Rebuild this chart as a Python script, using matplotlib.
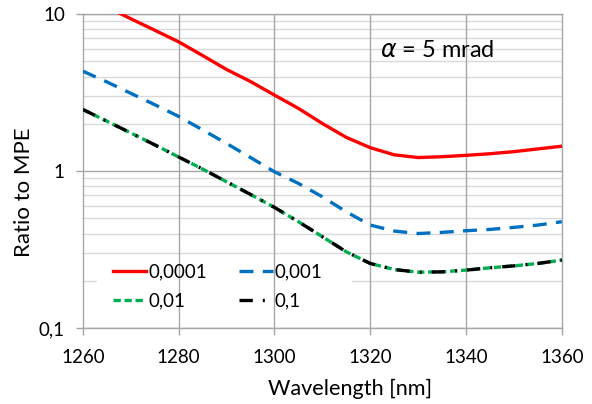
import numpy as np
import matplotlib
matplotlib.use("Agg")
import matplotlib.pyplot as plt
from matplotlib.ticker import FixedLocator, FuncFormatter, NullFormatter
from matplotlib.patches import Rectangle

plt.rcParams['font.family'] = ['Lato', 'DejaVu Sans']
plt.rcParams['mathtext.fontset'] = 'dejavusans'

# wavelength [nm]
wavelength = [1260, 1265, 1270, 1275, 1280, 1285, 1290, 1295, 1300, 1305, 1310,
              1315, 1320, 1325, 1330, 1335, 1340, 1345, 1350, 1355, 1360]

# ratio to MPE, one list per series
r_0001 = [12.4, 11.1, 9.35, 7.9, 6.66, 5.45, 4.44, 3.72, 3.05, 2.51, 2.01,
          1.64, 1.41, 1.27, 1.22, 1.235, 1.26, 1.29, 1.33, 1.385, 1.44]
r_001 = [4.33, 3.7, 3.13, 2.65, 2.23, 1.83, 1.50, 1.22, 0.99, 0.835, 0.686,
         0.55, 0.453, 0.415, 0.40, 0.407, 0.417, 0.425, 0.438, 0.453, 0.476]
r_01 = [2.47, 2.08, 1.75, 1.47, 1.23, 1.03, 0.855, 0.71, 0.587, 0.476, 0.382,
        0.306, 0.258, 0.236, 0.227, 0.228, 0.234, 0.242, 0.249, 0.258, 0.271]
r_1 = [2.47, 2.08, 1.75, 1.47, 1.23, 1.03, 0.855, 0.71, 0.587, 0.476, 0.382,
       0.306, 0.258, 0.236, 0.227, 0.228, 0.234, 0.242, 0.249, 0.258, 0.271]

x_ticks = [1260, 1280, 1300, 1320, 1340, 1360]
y_labels = {0.1: '0,1', 1: '1', 10: '10'}

fig = plt.figure(figsize=(5.92, 4.04), dpi=100)
ax = fig.add_axes([0.140, 0.188, 0.809, 0.777])

lw = 2.4
l1, = ax.plot(wavelength, r_0001, color='#FF0000', lw=lw, label='0,0001', zorder=5)
l2, = ax.plot(wavelength, r_001, color='#0070C0', lw=lw, dashes=(4.2, 2.8), label='0,001', zorder=5)
l3, = ax.plot(wavelength, r_01, color='#00B050', lw=lw, dashes=(2.2, 1.1), label='0,01', zorder=5)
l4, = ax.plot(wavelength, r_1, color='black', lw=lw, dashes=(4, 3, 0.6, 3), label='0,1', zorder=6)

ax.set_yscale('log')
ax.set_xlim(1260, 1360)
ax.set_ylim(0.1, 10)
ax.set_xticks(x_ticks)
ax.yaxis.set_major_locator(FixedLocator(list(y_labels.keys())))
ax.yaxis.set_major_formatter(FuncFormatter(lambda v, p: y_labels.get(round(v, 3), '')))
ax.yaxis.set_minor_locator(FixedLocator([m * d for d in (0.1, 1) for m in range(2, 10)]))
ax.yaxis.set_minor_formatter(NullFormatter())

# horizontal grid lines
ax.grid(True, which='major', axis='y', color='#A6A6A6', lw=1.0, zorder=0)
ax.grid(True, which='minor', axis='y', color='#D9D9D9', lw=1.0, zorder=0)
ax.set_axisbelow(True)
# legend area hides the horizontal lines, vertical ones still go through
ax.add_patch(Rectangle((0.029, 0.05), 0.533, 0.16, transform=ax.transAxes,
                       facecolor='white', edgecolor='none', zorder=1))
for xv in x_ticks[1:-1]:
    ax.axvline(xv, color='#A6A6A6', lw=1.0, zorder=2)

for s in ax.spines.values():
    s.set_color('#A6A6A6')
    s.set_linewidth(1.0)

ax.tick_params(axis='both', which='major', labelsize=13.5, colors='#A6A6A6',
               labelcolor='black', length=5, width=1.0, direction='out')
ax.tick_params(axis='x', which='major', pad=10)
ax.tick_params(axis='y', which='major', pad=8)
ax.tick_params(axis='y', which='minor', length=0)

ax.set_xlabel('Wavelength [nm]', fontsize=15.6)
ax.set_ylabel('Ratio to MPE', fontsize=16)
ax.xaxis.set_label_coords(0.557, -0.162)
ax.yaxis.set_label_coords(-0.102, 0.433)

ax.text(0.62, 0.863, r'$\alpha$ = 5 mrad', transform=ax.transAxes, fontsize=17,
        va='baseline', zorder=7)

leg = ax.legend([l1, l3, l2, l4], ['0,0001', '0,01', '0,001', '0,1'], ncol=2,
                loc='upper left', bbox_to_anchor=(0.062, 0.205), fontsize=13.5,
                frameon=False, handlelength=1.8, handletextpad=0.1,
                columnspacing=1.7, borderaxespad=0, borderpad=0, labelspacing=0.62)
leg.set_zorder(8)

fig.savefig('out.png', dpi=100)
